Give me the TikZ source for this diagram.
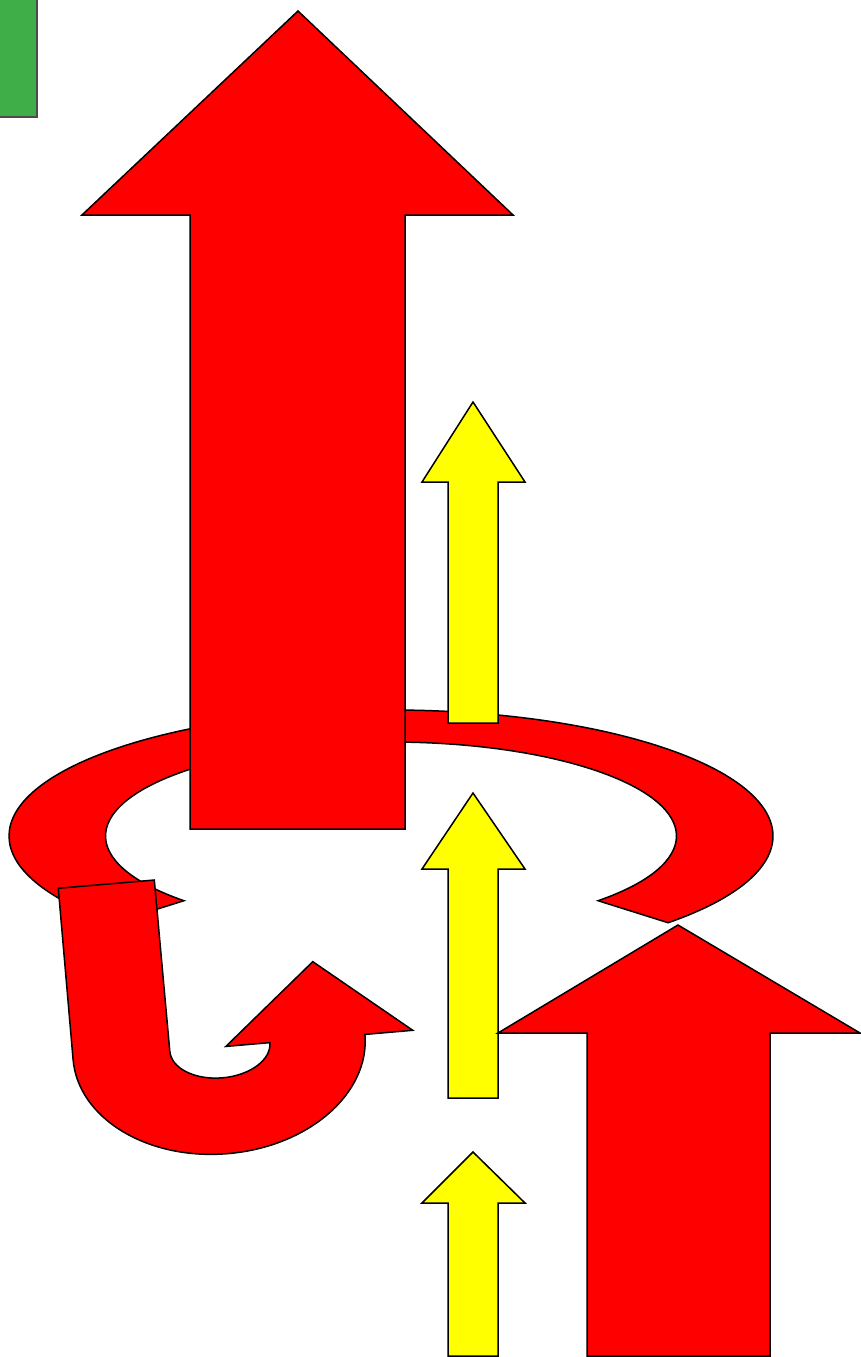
\documentclass[tikz,border=0pt]{standalone}
\usepackage{tikz}
\usetikzlibrary{calc}
\definecolor{grn}{RGB}{63,174,73}
\definecolor{pyellow}{RGB}{255,255,0}
\definecolor{pred}{RGB}{255,0,0}
\begin{document}
\begin{tikzpicture}[x=1pt,y=-1pt,
  shp/.style={draw=black,line width=1.5pt,line join=miter},
  redshp/.style={shp,fill=pred},
  yelshp/.style={shp,fill=pyellow},
  greenshp/.style={draw=black!70,line width=1.5pt,fill=grn}]
\useasboundingbox (0,0) rectangle (861,1357);
\clip (0,0) rectangle (861,1357);
% green rectangle (partly off page)
\draw[greenshp] (-10,-10) rectangle (37,117);
% block arc ring
\draw[redshp] (391,836) ++(43.5:382 and 126)
  arc[start angle=43.5,end angle=-223.5,x radius=382,y radius=126]
  -- ($(391,836)+(136.5:285.5 and 94)$)
  arc[start angle=-223.5,end angle=43.5,x radius=285.5,y radius=94]
  -- cycle;
% big red up arrow
\draw[redshp] (298,11) -- (513,215) -- (405,215) -- (405,829) -- (190,829)
  -- (190,215) -- (82,215) -- cycle;
% yellow arrow 1
\draw[yelshp] (473,402) -- (525,482) -- (498,482) -- (498,723) -- (448,723)
  -- (448,482) -- (422,482) -- cycle;
% U-turn arrow
\begin{scope}[shift={(58.3,888.3)},x={(0.996pt,0.086pt)},y={(0.086pt,-0.996pt)}]
\draw[redshp] (0,0) -- (0,172)
  arc[start angle=180,end angle=0,x radius=146.5,y radius=107]
  -- (341,172) -- (247.3,95) -- (153.4,172) -- (197.6,172)
  arc[start angle=0,end angle=180,x radius=50.25,y radius=31]
  -- (96.4,0) -- cycle;
\end{scope}
% yellow arrow 2
\draw[yelshp] (473,793) -- (525,869) -- (498,869) -- (498,1098) -- (448,1098)
  -- (448,869) -- (422,869) -- cycle;
% right red arrow
\draw[redshp] (678,925) -- (860,1033) -- (770,1033) -- (770,1356) -- (587,1356)
  -- (587,1033) -- (498,1033) -- cycle;
% yellow arrow 3
\draw[yelshp] (473,1152) -- (525,1203) -- (498,1203) -- (498,1356) -- (448,1356)
  -- (448,1203) -- (422,1203) -- cycle;
\end{tikzpicture}
\end{document}
